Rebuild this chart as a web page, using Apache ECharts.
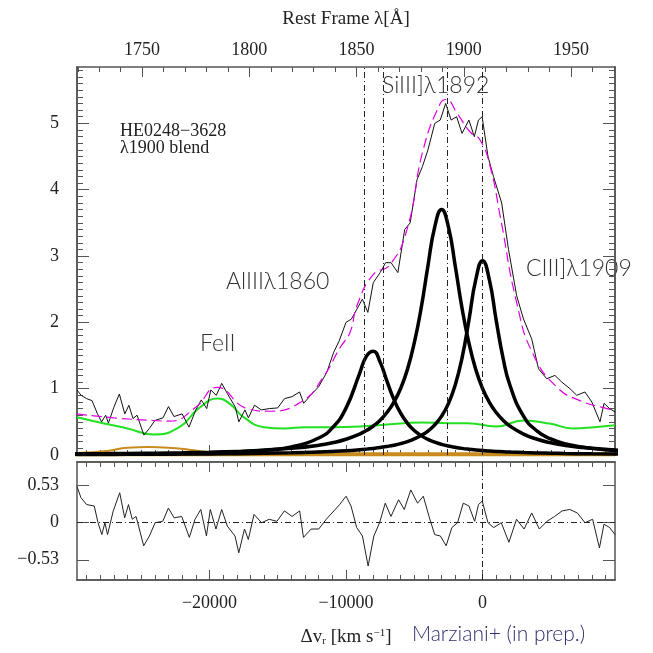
<!DOCTYPE html>
<html>
<head>
<meta charset="utf-8">
<script src="https://cdn.jsdelivr.net/npm/echarts@6/dist/echarts.min.js"></script>
<style>
  html, body { margin: 0; padding: 0; background: #fff; }
  #chart { width: 653px; height: 653px; }
</style>
</head>
<body>
<div id="chart"></div>
<script>
// 观测光谱（速度 km/s，通量）
const specV = [-29700,-29400,-29000,-28600,-28200,-27900,-27600,-27400,-27000,-26600,-26200,-25900,-25600,-25300,-24800,-24400,-24000,-23400,-23000,-22600,-22000,-21500,-21000,-20600,-20200,-19900,-19500,-19100,-18700,-18100,-17850,-17400,-17150,-16700,-16200,-15600,-15000,-14500,-13950,-13400,-13100,-12500,-12000,-11400,-10900,-10500,-10000,-9600,-9200,-8800,-8400,-8000,-7500,-7100,-6700,-6200,-5700,-5300,-4800,-4400,-4000,-3500,-3100,-2700,-2300,-1900,-1500,-1000,-600,-300,-30,400,800,1400,1900,2500,3000,3600,4100,4700,5300,5800,6400,6900,7500,8000,8600,8900,9300,9700]
const specF = [0.98,0.90,0.85,0.82,0.62,0.50,0.60,0.48,0.72,0.92,0.62,0.75,0.55,0.60,0.30,0.40,0.52,0.56,0.73,0.58,0.62,0.42,0.68,0.83,0.70,0.98,0.90,1.08,0.93,0.72,0.50,0.68,0.56,0.75,0.68,0.70,0.71,0.85,0.88,0.95,0.78,0.92,1.03,1.25,1.55,1.72,2.00,2.05,2.20,2.35,2.15,2.60,2.75,2.90,2.90,2.75,3.40,3.50,4.15,4.35,4.60,5.00,5.05,5.30,5.05,5.10,4.85,5.05,4.80,5.05,5.10,4.50,4.20,3.80,3.10,2.40,2.05,1.75,1.30,1.15,1.20,1.10,1.00,0.90,0.95,0.80,0.50,0.78,0.70,0.65]

// 总拟合（品红虚线）
const modelV = [-29700,-27000,-24100,-22900,-21000,-19440,-17250,-15600,-13140,-11680,-10430,-9700,-9200,-8010,-6770,-5520,-4350,-3100,-2670,-1860,-910,-180,560,1290,2530,3700,5460,7130,9110,9700]
const modelF = [0.62,0.56,0.52,0.51,0.72,1.02,0.70,0.66,0.82,1.17,1.62,1.85,2.25,2.72,2.87,3.41,4.60,5.30,5.36,5.15,4.87,4.75,4.35,3.60,2.27,1.52,1.02,0.82,0.70,0.68]

// 三条洛伦兹成分共用速度网格
const fitV = [-30000,-28000,-26000,-24000,-22000,-20000,-18000,-16000,-14000,-12000,-11000,-10000,-9000,-8500,-8000,-7500,-7000,-6500,-6000,-5500,-5000,-4500,-4000,-3500,-3000,-2500,-2000,-1500,-1000,-500,0,500,1000,1500,2000,3000,4000,5000,6000,8000,10000]
const si3F = [0.017,0.020,0.023,0.028,0.034,0.042,0.054,0.072,0.100,0.147,0.184,0.237,0.315,0.369,0.437,0.525,0.640,0.794,1.003,1.291,1.69,2.21,2.85,3.44,3.70,3.44,2.85,2.21,1.69,1.291,1.003,0.794,0.640,0.525,0.437,0.315,0.237,0.184,0.147,0.100,0.072]
const c3F = [0.0073,0.0084,0.0097,0.0114,0.0136,0.0164,0.0202,0.0255,0.0333,0.0451,0.0535,0.0645,0.0792,0.0885,0.0997,0.1127,0.129,0.148,0.172,0.203,0.242,0.293,0.361,0.455,0.586,0.775,1.055,1.465,2.03,2.64,2.93,2.64,2.03,1.465,1.055,0.586,0.361,0.242,0.172,0.0997,0.0645]
const al3F = [0.0096,0.0116,0.0144,0.0182,0.0237,0.0321,0.046,0.071,0.123,0.256,0.409,0.707,1.232,1.49,1.565,1.40,1.114,0.842,0.630,0.478,0.369,0.292,0.235,0.193,0.160,0.135,0.116,0.0998,0.087,0.0766,0.0677,0.0604,0.0541,0.0488,0.0442,0.0368,0.0311,0.0266,0.0230,0.0177,0.0140]

// FeII 模板（绿色）
const feV = [-29700,-27800,-26000,-24100,-22200,-20800,-19400,-18500,-17500,-16000,-14500,-13000,-11000,-9000,-7000,-4500,-2500,-1100,1000,3000,5000,6600,8200,9700]
const feF = [0.57,0.48,0.40,0.31,0.42,0.70,0.85,0.77,0.57,0.42,0.40,0.42,0.42,0.43,0.46,0.49,0.48,0.48,0.43,0.52,0.47,0.40,0.42,0.45]

// 底部弱成分
const bumpV = [-29700,-27500,-26000,-24500,-23000,-21500,-20000,-18500,-17000,9700]
const bumpF = [0.03,0.06,0.11,0.12,0.11,0.08,0.04,0.02,0.012,0.012]
const oliveV = [-29700,-24000,-19000,-17500]
const oliveF = [0.045,0.045,0.04,0.03]

// 残差
const resV = [-29700,-29413,-28995,-28438,-28159,-27880,-27658,-27463,-27045,-26571,-26209,-25930,-25652,-25373,-24816,-24398,-23980,-23423,-23005,-22587,-22030,-21473,-21055,-20637,-20219,-19940,-19523,-19105,-18687,-18129,-17851,-17433,-17154,-16736,-16179,-15622,-15065,-14508,-13950,-13393,-13115,-12558,-12000,-11443,-10886,-10468,-9994,-9632,-9214,-8796,-8379,-7961,-7543,-7125,-6707,-6150,-5732,-5258,-4757,-4339,-3921,-3503,-3085,-2667,-2249,-1831,-1413,-996,-578,-299,-20,397,815,1373,1930,2487,3044,3602,4159,4716,5273,5830,6388,6945,7502,8059,8561,8895,9313,9700]
const resF = [0.52,0.36,0.26,0.24,0,-0.17,0,-0.17,0.17,0.43,0.07,0.26,0.05,0.09,-0.33,-0.19,0,0.02,0.21,0.07,0.09,-0.21,0.05,0.19,-0.19,0.19,-0.09,0.19,-0.05,-0.19,-0.43,-0.09,-0.24,0.12,0,0.05,0.02,0.17,0.09,0.17,-0.21,-0.09,-0.09,0.05,0.17,0.26,0.38,0.24,-0.07,-0.19,-0.62,-0.19,0,0.28,0.09,0.33,0.19,0.47,0.28,0.38,0.09,-0.17,-0.19,-0.33,-0.07,0,0.28,0.24,0.02,0.26,0.31,0,-0.07,0,-0.28,0.05,-0.09,0.14,-0.09,0.02,0.09,0.17,0.19,0.14,0,0.05,-0.36,-0.02,-0.07,-0.17]

// 谱线位置（点划线）
const lineMain = [-8670, -7280, -2600, 0]
const lineRes = [0]

// 刻度
const vMajor = [-20000, -10000, 0]
const vMinor = [-29000,-28000,-27000,-26000,-25000,-24000,-23000,-22000,-21000,-19000,-18000,-17000,-16000,-15000,-14000,-13000,-12000,-11000,-9000,-8000,-7000,-6000,-5000,-4000,-3000,-2000,-1000,1000,2000,3000,4000,5000,6000,7000,8000,9000]
const lamMajor = [1750, 1800, 1850, 1900, 1950]
const lamMinor = [1720,1730,1740,1760,1770,1780,1790,1810,1820,1830,1840,1860,1870,1880,1890,1910,1920,1930,1940,1960,1970]
const yMajor = [0, 1, 2, 3, 4, 5]
const yMinor = [0.1,0.2,0.3,0.4,0.5,0.6,0.7,0.8,0.9,1.1,1.2,1.3,1.4,1.5,1.6,1.7,1.8,1.9,2.1,2.2,2.3,2.4,2.5,2.6,2.7,2.8,2.9,3.1,3.2,3.3,3.4,3.5,3.6,3.7,3.8,3.9,4.1,4.2,4.3,4.4,4.5,4.6,4.7,4.8,4.9,5.1,5.2,5.3,5.4,5.5,5.6,5.7,5.8]
const resTicks = [-0.53, 0, 0.53]

const V_MIN = -29700, V_MAX = 9700
const L_MIN = 1719.64, L_MAX = 1970.49

const serif = 'Liberation Serif'
const minus = v => (v < 0 ? '\u2212' + Math.abs(v) : String(v))
const pairs = (xs, ys) => xs.map((x, i) => [x, ys[i]])

let mychart = echarts.init(document.getElementById('chart'))

function xAx(grid, pos, ticks, len, opt) {
  return Object.assign({
    type: 'value', gridIndex: grid, position: pos, min: V_MIN, max: V_MAX,
    axisLine: { show: true, onZero: false, lineStyle: { color: '#555', width: 1.5 } },
    axisTick: { inside: true, length: len, customValues: ticks, lineStyle: { color: '#555' } },
    axisLabel: { show: false },
    splitLine: { show: false }
  }, opt || {})
}
function yAx(grid, pos, min, max, ticks, len, opt) {
  return Object.assign({
    type: 'value', gridIndex: grid, position: pos, min: min, max: max,
    axisLine: { show: true, onZero: false, lineStyle: { color: '#555', width: 1.5 } },
    axisTick: { inside: true, length: len, customValues: ticks, lineStyle: { color: '#555' } },
    axisLabel: { show: false },
    splitLine: { show: false }
  }, opt || {})
}

let labelFont = { fontFamily: serif, fontSize: 18, color: '#222' }

let option = {
  animation: false,
  grid: [
    { left: 77, top: 67, width: 538, height: 388 },
    { left: 77, top: 462, width: 538, height: 118 }
  ],
  xAxis: [
    xAx(0, 'bottom', vMajor, 10),
    xAx(0, 'bottom', vMinor, 5),
    // 顶部静止系波长轴
    {
      type: 'value', gridIndex: 0, position: 'top', min: L_MIN, max: L_MAX,
      axisLine: { show: true, onZero: false, lineStyle: { color: '#555', width: 1.5 } },
      axisTick: { inside: true, length: 10, customValues: lamMajor, lineStyle: { color: '#555' } },
      axisLabel: Object.assign({ customValues: lamMajor, margin: 8, formatter: v => String(v) }, labelFont),
      splitLine: { show: false },
      name: 'Rest Frame \u03bb[\u00c5]', nameLocation: 'middle', nameGap: 38,
      nameTextStyle: { fontFamily: serif, fontSize: 19, color: '#222' }
    },
    {
      type: 'value', gridIndex: 0, position: 'top', min: L_MIN, max: L_MAX,
      axisLine: { show: false, onZero: false },
      axisTick: { inside: true, length: 5, customValues: lamMinor, lineStyle: { color: '#555' } },
      axisLabel: { show: false }, splitLine: { show: false }
    },
    xAx(1, 'bottom', vMajor, 10, {
      axisLabel: Object.assign({ customValues: vMajor, formatter: minus, margin: 14 }, labelFont),
      name: '{a|\u0394v}{s|r}{a| [km s}{p|\u22121}{a|]}', nameLocation: 'middle', nameGap: 48,
      nameTextStyle: {
        rich: {
          a: { fontFamily: serif, fontSize: 19, color: '#222' },
          s: { fontFamily: serif, fontSize: 11, color: '#222', verticalAlign: 'bottom', padding: [8, 0, 0, 0] },
          p: { fontFamily: serif, fontSize: 11, color: '#222', verticalAlign: 'top', padding: [0, 0, 8, 0] }
        }
      }
    }),
    xAx(1, 'bottom', vMinor, 5),
    xAx(1, 'top', vMajor, 10),
    xAx(1, 'top', vMinor, 5)
  ],
  yAxis: [
    yAx(0, 'left', 0, 5.85, yMajor, 12, { axisLabel: Object.assign({ customValues: yMajor, margin: 18 }, labelFont) }),
    yAx(0, 'left', 0, 5.85, yMinor, 6),
    yAx(0, 'right', 0, 5.85, yMajor, 12),
    yAx(0, 'right', 0, 5.85, yMinor, 6),
    yAx(1, 'left', -0.82, 0.87, resTicks, 12, { axisLabel: Object.assign({ customValues: resTicks, formatter: v => v < 0 ? '\u22120.53' : String(v), margin: 18 }, labelFont) }),
    yAx(1, 'right', -0.82, 0.87, resTicks, 12)
  ],
  series: [
    {
      type: 'line', xAxisIndex: 0, yAxisIndex: 0, symbol: 'none', silent: true,
      data: pairs(oliveV, oliveF), lineStyle: { width: 0 },
      areaStyle: { color: '#5a6b3a', opacity: 1 }
    },
    {
      type: 'line', xAxisIndex: 0, yAxisIndex: 0, symbol: 'none', smooth: true,
      data: pairs(bumpV, bumpF), lineStyle: { color: '#c98a1e', width: 2 }
    },
    {
      type: 'line', xAxisIndex: 0, yAxisIndex: 0, symbol: 'none',
      data: [[V_MIN, 0.01], [V_MAX, 0.01]], lineStyle: { color: '#c98a1e', width: 4 }
    },
    {
      type: 'line', xAxisIndex: 0, yAxisIndex: 0, symbol: 'none', smooth: true,
      data: pairs(feV, feF), lineStyle: { color: '#22e022', width: 2 }
    },
    {
      type: 'line', xAxisIndex: 0, yAxisIndex: 0, symbol: 'none', smooth: true,
      data: pairs(fitV, al3F), lineStyle: { color: '#000', width: 3.5 }
    },
    {
      type: 'line', xAxisIndex: 0, yAxisIndex: 0, symbol: 'none', smooth: true,
      data: pairs(fitV, si3F), lineStyle: { color: '#000', width: 3.5 }
    },
    {
      type: 'line', xAxisIndex: 0, yAxisIndex: 0, symbol: 'none', smooth: true,
      data: pairs(fitV, c3F), lineStyle: { color: '#000', width: 3.5 }
    },
    {
      type: 'line', xAxisIndex: 0, yAxisIndex: 0, symbol: 'none',
      data: pairs(specV, specF), lineStyle: { color: '#111', width: 1 },
      markLine: {
        silent: true, symbol: 'none', label: { show: false },
        lineStyle: { color: '#222', type: [6, 3, 1, 3], width: 1 },
        data: lineMain.map(v => ({ xAxis: v }))
      }
    },
    {
      type: 'line', xAxisIndex: 0, yAxisIndex: 0, symbol: 'none', smooth: true,
      data: pairs(modelV, modelF), lineStyle: { color: '#e000e0', width: 1.2, type: [10, 5] }
    },
    {
      type: 'line', xAxisIndex: 4, yAxisIndex: 4, symbol: 'none',
      data: pairs(resV, resF), lineStyle: { color: '#222', width: 1 },
      markLine: {
        silent: true, symbol: 'none', label: { show: false },
        lineStyle: { color: '#222', type: [6, 3, 1, 3], width: 1 },
        data: [{ yAxis: 0 }].concat(lineRes.map(v => ({ xAxis: v })))
      }
    }
  ],
  graphic: [
    { type: 'text', left: 120, top: 122, style: { text: 'HE0248\u22123628\n\u03bb1900 blend', font: '18px "Liberation Serif"', lineHeight: 17, fill: '#222' } },
    { type: 'text', left: 382, top: 74, style: { text: 'SiIII]\u03bb1892', font: '300 23px "Lato"', fill: '#333' } },
    { type: 'text', left: 226, top: 270, style: { text: 'AlIII\u03bb1860', font: '300 23px "Lato"', fill: '#333' } },
    { type: 'text', left: 526, top: 257, style: { text: 'CIII]\u03bb1909', font: '300 23px "Lato"', fill: '#333' } },
    { type: 'text', left: 200, top: 332, style: { text: 'FeII', font: '300 23px "Lato"', fill: '#333' } },
    { type: 'text', left: 412, top: 624, style: { text: 'Marziani+ (in prep.)', font: '300 21px "Lato"', fill: '#2e2e6e' } }
  ]
}

mychart.setOption(option)
</script>
</body>
</html>
